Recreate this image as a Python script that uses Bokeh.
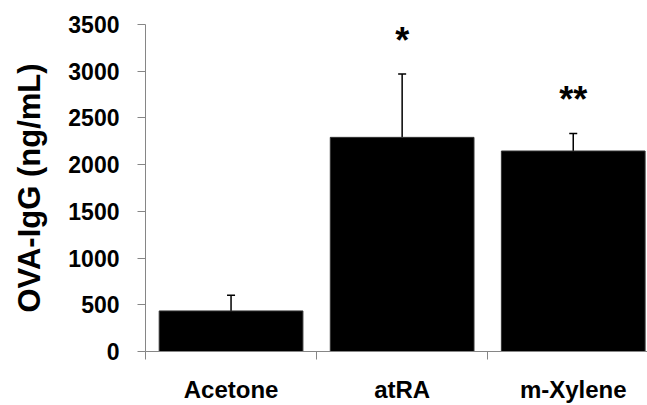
from bokeh.plotting import figure
from bokeh.models import Range1d, FixedTicker, Whisker, TeeHead, ColumnDataSource
from bokeh.core.properties import value
from bokeh.embed import file_html
from bokeh.resources import INLINE

categories = ["Acetone", "atRA", "m-Xylene"]
means = [434, 2292, 2146]
errors = [167, 677, 187]
marks = ["", "*", "**"]
y_ticks = [0, 500, 1000, 1500, 2000, 2500, 3000, 3500]

xs = [i + 0.5 for i in range(len(categories))]
tops = [m + e for m, e in zip(means, errors)]
star_y = [t + 365 for t in tops]

src = ColumnDataSource(dict(x=xs, mean=means, top=tops, mark=marks, sy=star_y))

p = figure(width=647, height=405, output_backend="svg", toolbar_location=None,
           x_range=Range1d(0, 2.934), y_range=Range1d(0, 3500),
           min_border_left=145, min_border_right=0, min_border_top=24, min_border_bottom=45)
p.outline_line_color = None
p.xgrid.visible = False
p.ygrid.visible = False
p.background_fill_color = "white"
p.border_fill_color = "white"

p.vbar(x="x", top="mean", bottom=0, width=0.84, source=src,
       fill_color="black", line_color="#333333", line_width=1)

w = Whisker(base="x", lower="mean", upper="top", source=src,
            line_color="black", line_width=1.5,
            upper_head=TeeHead(size=8, line_color="black", line_width=1.5),
            lower_head=None)
p.add_layout(w)

p.text(x="x", y="sy", text="mark", source=src, text_align="center",
       text_baseline="alphabetic", text_font=value("Liberation Sans"),
       text_font_style="bold", text_font_size="36px", text_color="black")

# x axis
p.xaxis.ticker = FixedTicker(ticks=xs, minor_ticks=[0, 1, 2, 3])
p.xaxis.major_label_overrides = {x: c for x, c in zip(xs, categories)}
p.xaxis.major_tick_out = 0
p.xaxis.major_tick_in = 0
p.xaxis.minor_tick_out = 8
p.xaxis.minor_tick_in = 0
p.xaxis.minor_tick_line_color = "#868686"
p.xaxis.axis_line_color = "#868686"
p.xaxis.major_label_text_font = "Liberation Sans"
p.xaxis.major_label_text_font_style = "bold"
p.xaxis.major_label_text_font_size = "24px"
p.xaxis.major_label_text_color = "black"
p.xaxis.major_label_standoff = 16

# y axis
p.yaxis.ticker = FixedTicker(ticks=y_ticks, minor_ticks=[])
p.yaxis.major_tick_out = 8
p.yaxis.major_tick_in = 0
p.yaxis.major_tick_line_color = "#868686"
p.yaxis.axis_line_color = "#868686"
p.yaxis.major_label_text_font = "Liberation Sans"
p.yaxis.major_label_text_font_style = "bold"
p.yaxis.major_label_text_font_size = "23px"
p.yaxis.major_label_text_color = "black"
p.yaxis.major_label_standoff = 18
p.yaxis.axis_label = "OVA-IgG (ng/mL)"
p.yaxis.axis_label_text_font = "Liberation Sans"
p.yaxis.axis_label_text_font_style = "bold"
p.yaxis.axis_label_text_font_size = "31px"
p.yaxis.axis_label_text_color = "black"
p.yaxis.axis_label_standoff = 18

open("out.html", "w").write(file_html(p, INLINE))
